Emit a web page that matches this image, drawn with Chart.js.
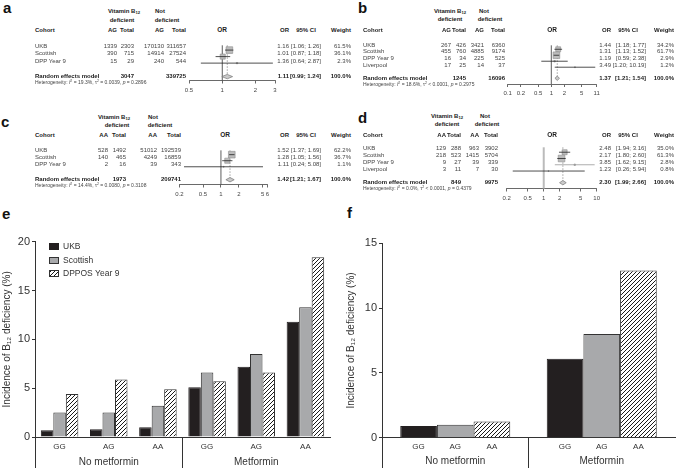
<!DOCTYPE html>
<html>
<head>
<meta charset="utf-8">
<title>MTHFR / B12 deficiency</title>
<script src="https://cdn.jsdelivr.net/npm/chart.js@4.4.1/dist/chart.umd.min.js"></script>
<style>
  html, body { margin: 0; padding: 0; background: #fff; }
  body { position: relative; width: 677px; height: 470px; overflow: hidden;
         font-family: "Liberation Sans", Arial, sans-serif; color: #444; }
  canvas { position: absolute; }
  .tx { position: absolute; white-space: nowrap; }
  .b { font-weight: bold; color: #222; }
  .lbl { position: absolute; font-weight: bold; font-size: 15px; line-height: 15px; color: #111; }
  sub { font-size: 0.7em; line-height: 0; vertical-align: -0.3em; }
  sup { font-size: 0.7em; line-height: 0; vertical-align: 0.45em; }
</style>
</head>
<body>
<div class="lbl" style="left:3px;top:0px">a</div>
<div class="lbl" style="left:358px;top:0px">b</div>
<div class="lbl" style="left:1px;top:114px">c</div>
<div class="lbl" style="left:358px;top:110px">d</div>
<div class="lbl" style="left:2px;top:206px">e</div>
<div class="lbl" style="left:347px;top:205px">f</div>

<canvas id="fa"></canvas>
<canvas id="fb"></canvas>
<canvas id="fc"></canvas>
<canvas id="fd"></canvas>
<canvas id="barE" width="340" height="240" style="left:0px;top:230px"></canvas>
<canvas id="barF" width="339" height="240" style="left:338px;top:230px"></canvas>

<script>
Chart.defaults.font.family = '"Liberation Sans", Arial, sans-serif';
Chart.defaults.color = '#333';

// ---- panel a: AG vs GG ----
const cohortsA = ["UKB", "Scottish", "DPP Year 9"];
const defCarrA = [1339, 390, 15];
const defTotalA = [2303, 715, 29];
const notCarrA = [170130, 14914, 240];
const notTotalA = [311657, 27524, 544];
const orA = [1.16, 1.01, 1.36];
const loA = [1.06, 0.87, 0.64];
const hiA = [1.26, 1.18, 2.87];
const weightA = [61.5, 36.1, 2.3];
const pooledA = [1.11, 0.99, 1.24];
const hetA = ["19.3%", "= 0.0039", "0.2896"];
const ticksA = [0.5, 1, 2, 3];

// ---- panel b ----
const cohortsB = ["UKB", "Scottish", "DPP Year 9", "Liverpool"];
const defCarrB = [267, 455, 16, 17];
const defTotalB = [426, 760, 34, 25];
const notCarrB = [3421, 4885, 225, 14];
const notTotalB = [6360, 9174, 525, 37];
const orB = [1.44, 1.31, 1.19, 3.49];
const loB = [1.18, 1.13, 0.59, 1.20];
const hiB = [1.77, 1.52, 2.38, 10.19];
const weightB = [34.2, 61.7, 2.9, 1.2];
const pooledB = [1.37, 1.21, 1.54];
const hetB = ["18.6%", "< 0.0001", "0.2975"];
const ticksB = [0.1, 0.2, 0.5, 1, 2, 5, 11];

// ---- panel c: AA vs GG ----
const cohortsC = ["UKB", "Scottish", "DPP Year 9"];
const defCarrC = [528, 140, 2];
const defTotalC = [1492, 465, 16];
const notCarrC = [51012, 4249, 39];
const notTotalC = [192539, 16859, 343];
const orC = [1.52, 1.28, 1.11];
const loC = [1.37, 1.05, 0.24];
const hiC = [1.69, 1.56, 5.08];
const weightC = [62.2, 36.7, 1.1];
const pooledC = [1.42, 1.21, 1.67];
const hetC = ["14.4%", "= 0.0080", "0.3108"];
const ticksC = [0.2, 0.5, 1, 2, 5, 6];

// ---- panel d ----
const cohortsD = ["UKB", "Scottish", "DPP Year 9", "Liverpool"];
const defCarrD = [129, 218, 9, 3];
const defTotalD = [288, 523, 27, 11];
const notCarrD = [963, 1415, 39, 7];
const notTotalD = [3902, 5704, 339, 30];
const orD = [2.48, 2.17, 3.85, 1.23];
const loD = [1.94, 1.80, 1.62, 0.26];
const hiD = [3.16, 2.60, 9.15, 5.94];
const weightD = [35.0, 61.3, 2.8, 0.8];
const pooledD = [2.30, 1.99, 2.66];
const hetD = ["0.0%", "< 0.0001", "0.4379"];
const ticksD = [0.2, 0.5, 1, 2, 5, 10];

// ---- panels e and f ----
const genotypes = ["GG", "AG", "AA"];
const groups = ["No metformin", "Metformin"];
const ukbE = [0.7, 0.8, 1.0, 5.1, 7.2, 11.8];
const scottishE = [2.5, 2.5, 3.2, 6.6, 8.5, 13.3];
const dpposE = [4.4, 5.9, 4.9, 5.7, 6.6, 18.4];
const ggF = [0.9, 6.1];
const agF = [1.0, 8.0];
const aaF = [1.25, 12.9];

// text helper, y is the vertical centre of the line
function put(txt, x, y, o = {}) {
  const d = document.createElement('div');
  const fs = o.fs || 6;
  d.className = 'tx' + (o.b ? ' b' : '');
  d.innerHTML = txt;
  d.style.fontSize = fs + 'px';
  d.style.lineHeight = fs + 'px';
  d.style.top = (y - fs / 2) + 'px';
  if (o.al === 'r') d.style.right = (677 - x) + 'px';
  else if (o.al === 'c') { d.style.left = x + 'px'; d.style.transform = 'translateX(-50%)'; }
  else d.style.left = x + 'px';
  document.body.appendChild(d);
}

const ci = (lo, hi) => `[${lo.toFixed(2)}; ${hi.toFixed(2)}]`;
const sum = a => a.reduce((s, v) => s + v, 0);

function forestTable(t, L) {
  put('Vitamin B<sub>12</sub>', L.vit[0], L.h1, { al: 'c', b: 1 });
  put('deficient', L.vit[1], L.h2, { al: 'c', b: 1 });
  put('Not', L.not[0], L.h1, { al: 'c', b: 1 });
  put('deficient', L.not[1], L.h2, { al: 'c', b: 1 });
  put('Cohort', L.name, L.hdr, { b: 1 });
  put(t.allele, L.cols[0], L.hdr, { al: 'r', b: 1 });
  put('Total', L.cols[1], L.hdr, { al: 'r', b: 1 });
  put(t.allele, L.cols[2], L.hdr, { al: 'r', b: 1 });
  put('Total', L.cols[3], L.hdr, { al: 'r', b: 1 });
  put('OR', L.orPlot, L.hdr, { al: 'c', b: 1, fs: 6.5 });
  put('OR', L.orCol, L.hdr, { al: 'r', b: 1 });
  put('95% CI', L.ciHdr, L.hdr, { al: 'c', b: 1 });
  put('Weight', L.wCol, L.hdr, { al: 'r', b: 1 });
  t.cohorts.forEach((c, i) => {
    const y = L.row0 + i * L.step;
    put(c, L.name, y);
    put(t.defCarr[i], L.cols[0], y, { al: 'r' });
    put(t.defTotal[i], L.cols[1], y, { al: 'r' });
    put(t.notCarr[i], L.cols[2], y, { al: 'r' });
    put(t.notTotal[i], L.cols[3], y, { al: 'r' });
    put(t.or[i].toFixed(2), L.orCol, y, { al: 'r' });
    put(ci(t.lo[i], t.hi[i]), L.ciCol, y, { al: 'r' });
    put(t.weight[i].toFixed(1) + '%', L.wCol, y, { al: 'r' });
  });
  const yp = L.pooledY;
  put('Random effects model', L.name, yp, { b: 1 });
  put(sum(t.defTotal), L.cols[1], yp, { al: 'r', b: 1 });
  put(sum(t.notTotal), L.cols[3], yp, { al: 'r', b: 1 });
  put(t.pooled[0].toFixed(2), L.orCol, yp, { al: 'r', b: 1 });
  put(ci(t.pooled[1], t.pooled[2]), L.ciCol, yp, { al: 'r', b: 1 });
  put('100.0%', L.wCol, yp, { al: 'r', b: 1 });
  put(`Heterogeneity: <i>I</i><sup>2</sup> = ${t.het[0]}, &tau;<sup>2</sup> ${t.het[1]}, <i>p</i> = ${t.het[2]}`,
      L.name, L.hetY, { fs: 5 });
}

// reference line at OR = 1, dashed pooled line and the pooled diamond
const forestDeco = {
  id: 'forestDeco',
  beforeDatasetsDraw(chart, args, o) {
    const { ctx, chartArea: ca, scales: { x, y } } = chart;
    const x1 = x.getPixelForValue(1);
    const xp = x.getPixelForValue(o.pooled[0]);
    const yp = y.getPixelForValue(o.row);
    ctx.save();
    ctx.strokeStyle = o.refColor;
    ctx.lineWidth = o.refWidth;
    ctx.beginPath(); ctx.moveTo(x1, ca.top); ctx.lineTo(x1, ca.bottom); ctx.stroke();
    ctx.strokeStyle = '#8a8a8a';
    ctx.lineWidth = 0.8;
    ctx.setLineDash([1.5, 1.5]);
    ctx.beginPath(); ctx.moveTo(xp, ca.top); ctx.lineTo(xp, yp); ctx.stroke();
    ctx.restore();
  },
  afterDatasetsDraw(chart, args, o) {
    const { ctx, scales: { x, y } } = chart;
    const [est, lo, hi] = o.pooled;
    const yp = y.getPixelForValue(o.row), h = 2.2;
    ctx.save();
    ctx.beginPath();
    ctx.moveTo(x.getPixelForValue(lo), yp);
    ctx.lineTo(x.getPixelForValue(est), yp - h);
    ctx.lineTo(x.getPixelForValue(hi), yp);
    ctx.lineTo(x.getPixelForValue(est), yp + h);
    ctx.closePath();
    ctx.fillStyle = '#cacaca';
    ctx.fill();
    ctx.strokeStyle = '#777';
    ctx.lineWidth = 0.7;
    ctx.stroke();
    ctx.restore();
  }
};

function forestChart(id, t, g) {
  const cv = document.getElementById(id);
  const left = Math.floor(g.plotL - 8), top = Math.floor(g.top);
  const w = Math.ceil(g.plotR + 8) - left, h = Math.ceil(g.axisY + 16) - top;
  cv.width = w; cv.height = h;
  cv.style.left = left + 'px';
  cv.style.top = top + 'px';
  const datasets = t.or.map((v, i) => ({
    type: 'line',
    data: [{ x: t.lo[i], y: i }, { x: t.hi[i], y: i }],
    borderColor: (g.ciColors && g.ciColors[i]) || '#222',
    borderWidth: 0.8,
    pointRadius: 0,
    order: 1
  }));
  datasets.push({
    type: 'scatter',
    data: t.or.map((v, i) => ({ x: v, y: i })),
    pointStyle: 'rect',
    pointRadius: t.weight.map(wt => Math.sqrt(wt) * 0.6),
    backgroundColor: '#bcbcbc',
    borderColor: '#8c8c8c',
    borderWidth: 0.6,
    order: 2
  });
  new Chart(cv, {
    type: 'scatter',
    data: { datasets },
    options: {
      responsive: false,
      animation: false,
      events: [],
      layout: { padding: { left: g.plotL - left, right: left + w - g.plotR, top: g.top - top, bottom: top + h - g.axisY - 16 } },
      plugins: {
        legend: { display: false },
        tooltip: { enabled: false },
        forestDeco: { pooled: t.pooled, row: g.pooledRow, refColor: g.refColor || '#333', refWidth: g.refWidth || 0.8 }
      },
      scales: {
        x: {
          type: 'logarithmic',
          min: t.ticks[0],
          max: t.ticks[t.ticks.length - 1],
          afterBuildTicks: s => { s.ticks = t.ticks.map(v => ({ value: v })); },
          afterFit: s => { s.height = 16; },
          ticks: { autoSkip: false, maxRotation: 0, padding: 3, font: { size: 6 }, color: '#444', callback: v => String(v) },
          grid: { drawOnChartArea: false, drawTicks: true, tickLength: 3, color: '#444', lineWidth: 0.8 },
          border: { display: true, color: '#444', width: 0.8 }
        },
        y: {
          type: 'linear',
          reverse: true,
          display: false,
          min: (g.top - g.row0) / g.step,
          max: (g.axisY - g.row0) / g.step
        }
      }
    },
    plugins: [forestDeco]
  });
}

const tA = { allele: 'AG', cohorts: cohortsA, defCarr: defCarrA, defTotal: defTotalA, notCarr: notCarrA, notTotal: notTotalA,
             or: orA, lo: loA, hi: hiA, weight: weightA, pooled: pooledA, het: hetA, ticks: ticksA };
const tB = { allele: 'AG', cohorts: cohortsB, defCarr: defCarrB, defTotal: defTotalB, notCarr: notCarrB, notTotal: notTotalB,
             or: orB, lo: loB, hi: hiB, weight: weightB, pooled: pooledB, het: hetB, ticks: ticksB };
const tC = { allele: 'AA', cohorts: cohortsC, defCarr: defCarrC, defTotal: defTotalC, notCarr: notCarrC, notTotal: notTotalC,
             or: orC, lo: loC, hi: hiC, weight: weightC, pooled: pooledC, het: hetC, ticks: ticksC };
const tD = { allele: 'AA', cohorts: cohortsD, defCarr: defCarrD, defTotal: defTotalD, notCarr: notCarrD, notTotal: notTotalD,
             or: orD, lo: loD, hi: hiD, weight: weightD, pooled: pooledD, het: hetD, ticks: ticksD };

forestTable(tA, { vit: [124, 122], not: [160, 167], h1: 11, h2: 19.5, hdr: 30, name: 35, cols: [117, 134, 164, 186],
  orPlot: 222, orCol: 289, ciHdr: 306, ciCol: 321, wCol: 351, row0: 45.5, step: 7.5, pooledY: 76, hetY: 82.5 });
forestTable(tB, { vit: [450, 450], not: [484, 490], h1: 11, h2: 19, hdr: 30, name: 363, cols: [451, 466, 484, 505],
  orPlot: 552, orCol: 611, ciHdr: 628, ciCol: 646, wCol: 674, row0: 44.5, step: 6.8, pooledY: 77.5, hetY: 84 });
forestTable(tC, { vit: [114, 117], not: [153, 160], h1: 116.5, h2: 125, hdr: 135, name: 35, cols: [108, 126, 157, 181],
  orPlot: 225, orCol: 289, ciHdr: 306, ciCol: 321, wCol: 351, row0: 150, step: 7, pooledY: 179, hetY: 185.5 });
forestTable(tD, { vit: [447, 447], not: [485, 487], h1: 116, h2: 124, hdr: 135, name: 363, cols: [446, 461, 479, 498],
  orPlot: 552, orCol: 611, ciHdr: 628, ciCol: 646, wCol: 674, row0: 148, step: 7, pooledY: 182, hetY: 188.5 });

forestChart('fa', tA, { plotL: 189, plotR: 275, top: 40, axisY: 80.5, row0: 45.5, step: 7.5, pooledRow: 4.07 });
forestChart('fb', tB, { plotL: 507.7, plotR: 596.7, top: 40, axisY: 84, row0: 44.5, step: 6.8, pooledRow: 4.85 });
forestChart('fc', tC, { plotL: 179.3, plotR: 267.3, top: 145, axisY: 184.5, row0: 150, step: 7, pooledRow: 4.14 });
forestChart('fd', tD, { plotL: 506.7, plotR: 596.7, top: 142.5, axisY: 188.5, row0: 148, step: 7, pooledRow: 4.86,
  refColor: '#bbb', refWidth: 2, ciColors: ['#222', '#222', '#999', '#222'] });

// ---- bar charts ----
function hatch() {
  const c = document.createElement('canvas');
  c.width = 4; c.height = 4;
  const g = c.getContext('2d');
  g.fillStyle = '#fff';
  g.fillRect(0, 0, 4, 4);
  g.strokeStyle = '#1a1a1a';
  g.lineWidth = 1;
  g.beginPath();
  g.moveTo(0, 4); g.lineTo(4, 0);
  g.moveTo(-1, 1); g.lineTo(1, -1);
  g.moveTo(3, 5); g.lineTo(5, 3);
  g.stroke();
  return g.createPattern(c, 'repeat');
}
const stripes = hatch();
const BLACK = '#231f20', GREY = '#a8a9ab', EDGE = '#333';

const alignPx = (v, w) => Math.round(v - w / 2) + w / 2;

// extended axis / divider lines below the x axis, group and bar labels
const barExtras = {
  id: 'barExtras',
  afterDraw(chart, args, o) {
    const { ctx, chartArea: ca, scales: { x } } = chart;
    const mid = (x.getPixelForValue(o.split - 1) + x.getPixelForValue(o.split)) / 2;
    ctx.save();
    ctx.strokeStyle = EDGE;
    ctx.lineWidth = 1;
    ctx.beginPath();
    ctx.moveTo(alignPx(ca.left, 1), ca.bottom); ctx.lineTo(alignPx(ca.left, 1), o.bottom);
    ctx.moveTo(alignPx(mid, 1), ca.bottom); ctx.lineTo(alignPx(mid, 1), o.bottom);
    ctx.stroke();
    ctx.fillStyle = '#333';
    ctx.textAlign = 'center';
    ctx.textBaseline = 'middle';
    if (o.groupLabels) {
      ctx.font = '10px "Liberation Sans", Arial, sans-serif';
      o.groupLabels.forEach((txt, i) => ctx.fillText(txt, x.getPixelForValue(o.groupAt[i]), o.groupY));
    }
    if (o.barLabels) {
      ctx.font = '8px "Liberation Sans", Arial, sans-serif';
      chart.data.datasets.forEach((ds, i) => {
        chart.getDatasetMeta(i).data.forEach(bar => ctx.fillText(o.barLabels[i], bar.x, o.barY));
      });
    }
    ctx.restore();
  }
};

const boxLegend = {
  id: 'boxLegend',
  afterDraw(chart, args, o) {
    if (o.x === undefined) return;
    const { ctx } = chart;
    ctx.save();
    ctx.font = '8.5px "Liberation Sans", Arial, sans-serif';
    ctx.textBaseline = 'middle';
    ctx.textAlign = 'left';
    chart.data.datasets.forEach((ds, i) => {
      const yc = Math.round(o.y + i * o.step);
      ctx.fillStyle = ds.backgroundColor;
      ctx.fillRect(o.x, yc - 3, 10, 7);
      ctx.strokeStyle = ds.borderColor;
      ctx.lineWidth = 1;
      ctx.strokeRect(o.x + 0.5, yc - 2.5, 9, 6);
      ctx.fillStyle = '#333';
      ctx.fillText(ds.label, o.x + 14, yc + 0.5);
    });
    ctx.restore();
  }
};

function yAxis(max, width, titlePad) {
  return {
    min: 0, max: max,
    ticks: { stepSize: 5, font: { size: 11 }, padding: 2, color: '#333' },
    grid: { drawOnChartArea: false, drawTicks: true, tickLength: 3, color: EDGE },
    border: { display: true, color: EDGE, width: 1 },
    title: { display: true, text: 'Incidence of B\u2081\u2082 deficiency (%)', font: { size: 10 }, color: '#333',
             padding: { top: titlePad, bottom: 0 } },
    afterFit: s => { s.width = width; }
  };
}

new Chart(document.getElementById('barE'), {
  type: 'bar',
  data: {
    labels: groups.flatMap(() => genotypes),
    datasets: [
      { label: 'UKB', data: ukbE, backgroundColor: BLACK, borderColor: BLACK, borderWidth: 1 },
      { label: 'Scottish', data: scottishE, backgroundColor: GREY, borderColor: EDGE, borderWidth: 1 },
      { label: 'DPPOS Year 9', data: dpposE, backgroundColor: stripes, borderColor: EDGE, borderWidth: 1 }
    ]
  },
  options: {
    responsive: false,
    animation: false,
    events: [],
    layout: { padding: { left: 0, right: 10, top: 11.7, bottom: 0 } },
    datasets: { bar: { categoryPercentage: 0.763, barPercentage: 1 } },
    plugins: {
      legend: { display: false },
      tooltip: { enabled: false },
      boxLegend: { x: 49, y: 16, step: 13.7 },
      barExtras: { split: 3, bottom: 238, groupLabels: groups, groupAt: [1, 4], groupY: 232 }
    },
    scales: {
      x: {
        grid: { display: false, drawTicks: false },
        border: { display: true, color: EDGE, width: 1 },
        ticks: { font: { size: 8 }, padding: 5, color: '#333', autoSkip: false, maxRotation: 0 },
        afterFit: s => { s.height = 33; }
      },
      y: yAxis(20, 35, 1)
    }
  },
  plugins: [barExtras, boxLegend]
});

new Chart(document.getElementById('barF'), {
  type: 'bar',
  data: {
    labels: groups,
    datasets: [
      { label: 'GG', data: ggF, backgroundColor: BLACK, borderColor: BLACK, borderWidth: 1 },
      { label: 'AG', data: agF, backgroundColor: GREY, borderColor: EDGE, borderWidth: 1 },
      { label: 'AA', data: aaF, backgroundColor: stripes, borderColor: EDGE, borderWidth: 1 }
    ]
  },
  options: {
    responsive: false,
    animation: false,
    events: [],
    layout: { padding: { left: 0, right: 2, top: 13.3, bottom: 0 } },
    datasets: { bar: { categoryPercentage: 0.751, barPercentage: 1 } },
    plugins: {
      legend: { display: false },
      tooltip: { enabled: false },
      barExtras: { split: 1, bottom: 238, barLabels: genotypes, barY: 217 }
    },
    scales: {
      x: {
        grid: { display: false, drawTicks: false },
        border: { display: true, color: EDGE, width: 1 },
        ticks: { font: { size: 10 }, padding: 18, color: '#333', autoSkip: false, maxRotation: 0 },
        afterFit: s => { s.height = 32.3; }
      },
      y: yAxis(15, 44, 7)
    }
  },
  plugins: [barExtras, boxLegend]
});
</script>
</body>
</html>
